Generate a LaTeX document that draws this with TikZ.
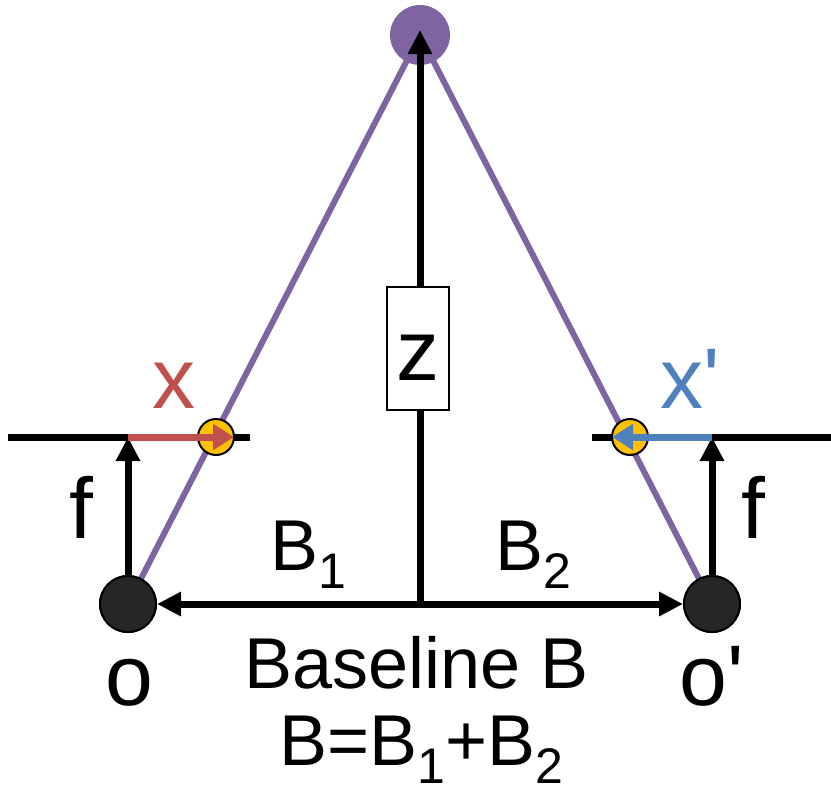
\documentclass[tikz,border=0pt]{standalone}
\usepackage{fontspec}
\setmainfont{Liberation Sans}[Ligatures=TeXOff]
\usetikzlibrary{arrows.meta}
\definecolor{rayc}{HTML}{8064A2}
\definecolor{redc}{HTML}{C0504D}
\definecolor{bluec}{HTML}{4F81BD}
\definecolor{yelc}{HTML}{FFC000}
\definecolor{camc}{HTML}{262626}
\newcommand{\mysub}[1]{\raisebox{-18pt}[0pt][0pt]{\fontsize{50}{50}\selectfont #1}}
\tikzset{
  arr/.style={line width=7pt, -{Triangle[length=24pt,width=23pt]}},
  plane/.style={line width=7pt},
  ray/.style={line width=6pt, draw=rayc},
  cam/.style={circle, fill=camc, draw=black, line width=2pt, minimum size=56pt, inner sep=0pt},
  target/.style={circle, fill=rayc, minimum size=60pt, inner sep=0pt},
  dot/.style={circle, fill=yelc, draw=black, line width=2pt, minimum size=36pt, inner sep=0pt},
  big/.style={font=\fontsize{86}{86}\selectfont, inner sep=0pt, anchor=base},
  mid/.style={font=\fontsize{72}{72}\selectfont, inner sep=0pt, anchor=base},
  zbox/.style={draw=black, fill=white, line width=1.5pt, inner sep=0pt, minimum width=62pt,
    text height=93pt, text depth=30pt, font=\fontsize{86}{86}\selectfont, anchor=base},
}
\begin{document}
\begin{tikzpicture}[x=1pt, y=-1pt]
\useasboundingbox (0,0) rectangle (831,793);
% coordinates
\coordinate (M) at (420,604);
\coordinate (Ztop) at (420,30);
\coordinate (fl) at (128,437);
\coordinate (fr) at (712,437);
\coordinate (pl1) at (8,437);
\coordinate (pl2) at (250,437);
\coordinate (pr1) at (592,437);
\coordinate (pr2) at (831,437);
\coordinate (xr) at (234,437);
\coordinate (xb) at (612,437);
\coordinate (Oc) at (128,604);
\coordinate (Opc) at (712,604);
\coordinate (Tc) at (420,35);
% rays
\draw[ray] (Oc) -- (Tc);
\draw[ray] (Opc) -- (Tc);
\node[target] (T) at (Tc) {};
% image planes
\draw[plane] (pl1) -- (pl2);
\draw[plane] (pr1) -- (pr2);
% focal arrows
\draw[arr] (Oc) -- (fl);
\draw[arr] (Opc) -- (fr);
% cameras (nodes for baseline)
\path (Oc) node[cam] (O) {};
\path (Opc) node[cam] (Op) {};
% baseline arrows
\draw[arr] (M) -- (O);
\draw[arr] (M) -- (Op);
% depth arrow
\draw[arr] (M) -- (Ztop);
\node[zbox] (z) at (418,380) {z};
% projections
\node[dot] (Y1) at (216,437) {};
\node[dot] (Y2) at (630,437) {};
\draw[arr, draw=redc, fill=redc, -{Triangle[length=21pt,width=25pt]}] (fl) -- (xr);
\draw[arr, draw=bluec, fill=bluec, -{Triangle[length=21pt,width=25pt]}] (fr) -- (xb);
% redraw cameras on top
\node[cam] at (Oc) {};
\node[cam] at (Opc) {};
% labels
\node[big, text=redc] (lx) at (174,408) {x};
\node[big, text=bluec] (lxp) at (690,408) {x'};
\node[big] (lf1) at (81,538) {f};
\node[big] (lf2) at (753,538) {f};
\node[big] (lo) at (129,705) {o};
\node[big] (lop) at (712,705) {o'};
\node[mid, anchor=base west] (lb1) at (270,570) {B\mysub{1}};
\node[mid, anchor=base west] (lb2) at (495,570) {B\mysub{2}};
\node[mid] (lbase) at (417,688) {Baseline B};
\node[mid] (lsum) at (421,765) {B=B\mysub{1}+B\mysub{2}};
\end{tikzpicture}
\end{document}
